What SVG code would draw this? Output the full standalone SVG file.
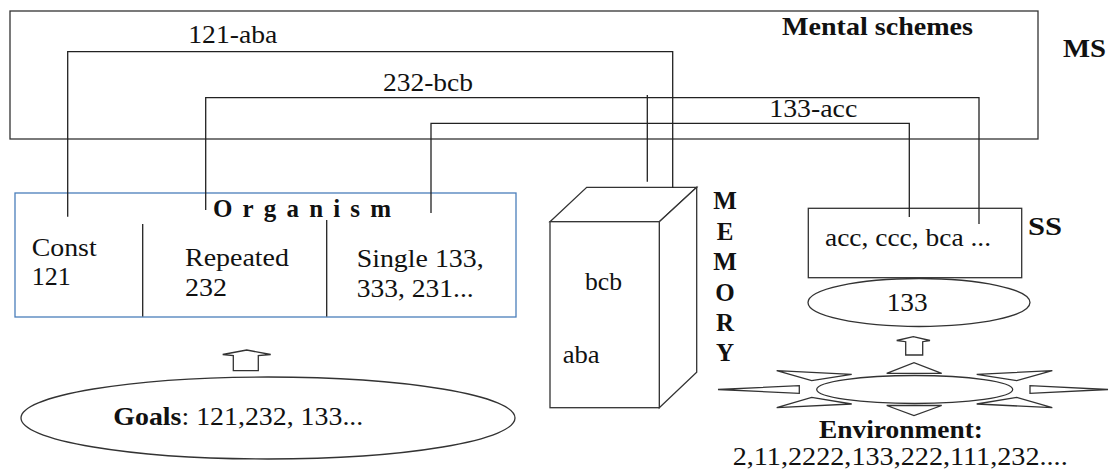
<svg xmlns="http://www.w3.org/2000/svg" width="1110" height="470" viewBox="0 0 1110 470">
<style>
.ln{fill:none;stroke:#222;stroke-width:1.3}
.sh{fill:#fff;stroke:#333;stroke-width:1.3}
.t{font-family:"Liberation Serif","Times New Roman",serif;font-size:26px;fill:#111}
.b{font-family:"Liberation Serif","Times New Roman",serif;font-size:25px;font-weight:bold;fill:#111}
</style>
<rect width="1110" height="470" fill="#fff"/>
<g id="mental-schemes">
<rect class="sh" x="10" y="11" width="1028" height="128"/>
<text class="b" x="782" y="35" textLength="191" lengthAdjust="spacingAndGlyphs">Mental schemes</text>
<text class="b" x="1063" y="57" textLength="43" lengthAdjust="spacingAndGlyphs">MS</text>
</g>
<g id="organism">
<rect x="15" y="193" width="501" height="124" fill="#fff" stroke="#4a7ebb" stroke-width="1.3"/>
<line class="ln" x1="142.7" y1="224" x2="142.7" y2="316.5"/>
<line class="ln" x1="326.7" y1="220" x2="326.7" y2="316.5"/>
<text class="b" x="213" y="217" font-size="23" textLength="178" lengthAdjust="spacing">Organism</text>
<text class="t" x="31.7" y="255.7" textLength="65" lengthAdjust="spacingAndGlyphs">Const</text>
<text class="t" x="31.7" y="285" textLength="39" lengthAdjust="spacingAndGlyphs">121</text>
<text class="t" x="185" y="265.7" textLength="104" lengthAdjust="spacingAndGlyphs">Repeated</text>
<text class="t" x="185" y="295.7" textLength="42" lengthAdjust="spacingAndGlyphs">232</text>
<text class="t" x="356.7" y="267.3" textLength="127" lengthAdjust="spacingAndGlyphs">Single 133,</text>
<text class="t" x="356.7" y="296.7" textLength="117" lengthAdjust="spacingAndGlyphs">333, 231...</text>
</g>
<g id="goals">
<ellipse class="sh" cx="268" cy="418" rx="247" ry="41"/>
<text class="t" x="113.3" y="425" textLength="250" lengthAdjust="spacingAndGlyphs"><tspan font-weight="bold">Goals</tspan>: 121,232, 133...</text>
</g>
<g id="goals-arrow">
<polygon class="sh" points="222.7,354.5 246.7,350 270.7,354.5 258.3,355.7 258.3,370.7 233.3,370.7 233.3,355.7"/>
</g>
<g id="memory">
<polygon class="sh" points="550,221.7 586.7,187.3 696.7,187.3 659.3,221.7"/>
<polygon class="sh" points="659.3,221.7 696.7,187.3 696.7,372.3 659.3,407.7"/>
<rect class="sh" x="550" y="221.7" width="109.3" height="186"/>
<text class="t" x="585" y="290" textLength="37" lengthAdjust="spacingAndGlyphs">bcb</text>
<text class="t" x="562.7" y="363.3" textLength="37" lengthAdjust="spacingAndGlyphs">aba</text>
<g class="b" text-anchor="middle" font-size="26">
<text x="725" y="209">M</text>
<text x="725" y="239.5">E</text>
<text x="725" y="270">M</text>
<text x="725" y="300.5">O</text>
<text x="725" y="331">R</text>
<text x="725" y="361">Y</text>
</g>
</g>
<g id="ss">
<rect class="sh" x="808.3" y="208.3" width="213.4" height="69.4"/>
<text class="t" x="825" y="246" textLength="166" lengthAdjust="spacingAndGlyphs">acc, ccc, bca ...</text>
<text class="b" x="1028" y="235" textLength="34" lengthAdjust="spacingAndGlyphs">SS</text>
</g>
<g id="stimulus">
<ellipse class="sh" cx="919" cy="302.5" rx="111" ry="24"/>
<text class="t" x="886.7" y="311" textLength="41" lengthAdjust="spacingAndGlyphs">133</text>
</g>
<g id="env-arrow">
<polygon class="sh" points="896.7,340.5 913.3,336.7 930,340.5 922.7,341.7 922.7,355 905.7,355 905.7,341.7"/>
</g>
<g id="environment">
<polygon class="sh" points="886.7,373.3 914,362.7 941.7,373.3"/>
<polygon class="sh" points="886.7,405.5 914,415.5 941.7,405.5"/>
<polygon class="sh" points="718,389.5 799.3,385.7 799.3,393.3"/>
<polygon class="sh" points="1108,389.5 1030,385.7 1030,393.3"/>
<polygon class="sh" points="776.7,370.7 851.7,374.3 811.7,380.7"/>
<polygon class="sh" points="1052.3,370.7 976.7,374.3 1016.7,380.7"/>
<polygon class="sh" points="776.7,407.7 851.7,404 811.7,397.3"/>
<polygon class="sh" points="1052.3,407.7 976.7,404 1016.7,397.3"/>
<ellipse class="sh" cx="914.7" cy="389.5" rx="98" ry="14"/>
<text class="b" x="819" y="438.3" textLength="164" lengthAdjust="spacingAndGlyphs">Environment:</text>
<text class="t" x="732.7" y="465" textLength="335" lengthAdjust="spacingAndGlyphs">2,11,2222,133,222,111,232....</text>
</g>
<g id="connectors">
<polyline class="ln" points="67.7,216.7 67.7,51.7 672.7,51.7 672.7,188"/>
<polyline class="ln" points="205.7,210 205.7,97.7 979,97.7 979,224"/>
<polyline class="ln" points="431,213 431,123.3 909.3,123.3 909.3,217"/>
<line class="ln" x1="647.3" y1="95" x2="647.3" y2="181.7"/>
<text class="t" x="188.3" y="43.3" textLength="89" lengthAdjust="spacingAndGlyphs">121-aba</text>
<text class="t" x="383" y="90.7" textLength="90" lengthAdjust="spacingAndGlyphs">232-bcb</text>
<text class="t" x="769.3" y="116.7" textLength="88" lengthAdjust="spacingAndGlyphs">133-acc</text>
</g>
</svg>
